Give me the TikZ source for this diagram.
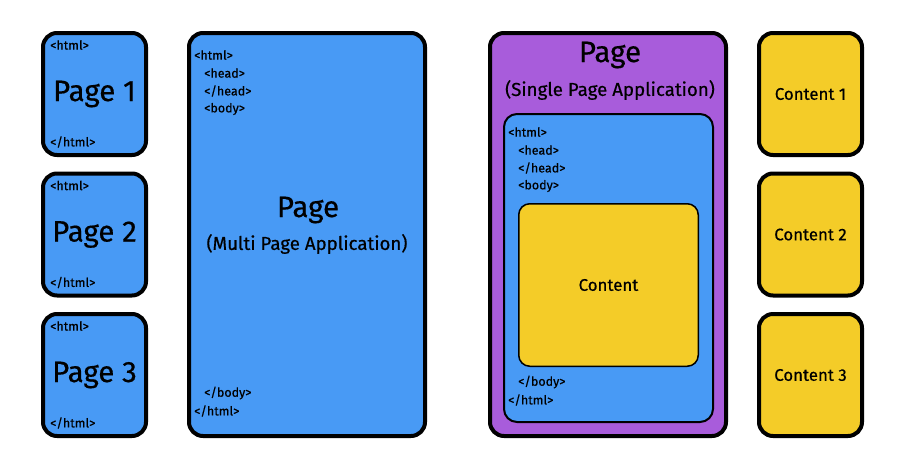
\documentclass[tikz,border=0pt]{standalone}
\usepackage{fontspec}
\setmainfont{Fira Sans}[FakeBold=0.5]
\begin{document}
\begin{tikzpicture}[x=1pt,y=-1pt,
  card/.style={draw=black, line width=4pt, rounded corners=14pt, inner sep=0pt},
  pagecard/.style={card, fill=webblue, minimum width=103pt, minimum height=122pt},
  contentcard/.style={card, fill=slotyellow, minimum width=103pt, minimum height=122pt},
  tag/.style={anchor=west, inner sep=0pt, font=\fontsize{12.5}{15}\selectfont},
  bigtitle/.style={inner sep=0pt, font=\fontsize{29.5}{35}\selectfont},
  subtitle/.style={inner sep=0pt, font=\fontsize{18.7}{22}\selectfont},
  cardlabel/.style={inner sep=0pt, font=\fontsize{16.8}{20}\selectfont}]
\definecolor{webblue}{RGB}{72,154,245}
\definecolor{spapurple}{RGB}{168,92,219}
\definecolor{slotyellow}{RGB}{244,204,40}
\useasboundingbox (0,0) rectangle (911,459);
\fill[white] (0,0) rectangle (911,459);

% three separate documents of the multi page app
\node[pagecard] (p1) at (94.5,94) {};
\node[pagecard] (p2) at (94.5,234.5) {};
\node[pagecard] (p3) at (94.5,375) {};
\foreach \p/\n in {p1/1,p2/2,p3/3}{
  \node[bigtitle] (\p title) at (\p.center) {Page \n};
  \node[tag] (\p open) at ([xshift=9pt,yshift=-14pt]\p.north west) {<html>};
  \node[tag] (\p close) at ([xshift=9pt,yshift=15pt]\p.south west) {</html>};
}

% multi page application
\node[card, fill=webblue, minimum width=236pt, minimum height=403pt] (mpa) at (307,234.5) {};
\node[tag] (mhtml) at (194,55) {<html>};
\node[tag] (mhead) at (204,73) {<head>};
\node[tag] (mheadend) at (204,91) {</head>};
\node[tag] (mbody) at (204,109) {<body>};
\node[tag] (mbodyend) at (204,393) {</body>};
\node[tag] (mhtmlend) at (194,411) {</html>};
\node[bigtitle] (mtitle) at (308,210) {Page};
\node[subtitle] (msub) at (307,244) {(Multi Page Application)};

% single page application
\node[card, fill=spapurple, minimum width=236pt, minimum height=403pt] (spa) at (608,234.5) {};
\node[bigtitle] (stitle) at (610,55) {Page};
\node[subtitle] (ssub) at (610,90) {(Single Page Application)};
\node[draw=black, line width=2pt, rounded corners=13pt, fill=webblue,
      minimum width=209pt, minimum height=308pt] (shell) at (608.5,268) {};
\node[tag] (shtml) at (508,132) {<html>};
\node[tag] (shead) at (518,150) {<head>};
\node[tag] (sheadend) at (518,168) {</head>};
\node[tag] (sbody) at (518,186) {<body>};
\node[tag] (sbodyend) at (518,382) {</body>};
\node[tag] (shtmlend) at (508,400) {</html>};
\node[draw=black, line width=1.5pt, rounded corners=11pt, fill=slotyellow,
      minimum width=179.5pt, minimum height=162.5pt] (slot) at (608.5,285) {};
\node[cardlabel] (slotlabel) at (slot.center) {Content};

% interchangeable content blocks
\node[contentcard] (c1) at (810.5,94) {};
\node[contentcard] (c2) at (810.5,234.5) {};
\node[contentcard] (c3) at (810.5,375) {};
\foreach \c/\n in {c1/1,c2/2,c3/3}{
  \node[cardlabel] (\c label) at (\c.center) {Content \n};
}
\end{tikzpicture}
\end{document}
